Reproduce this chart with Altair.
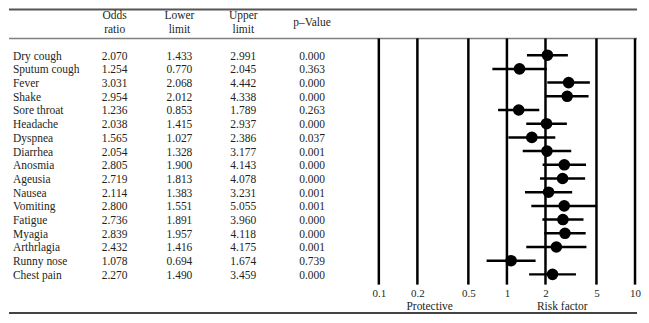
import altair as alt
import pandas as pd

symptoms = ["Dry cough", "Sputum cough", "Fever", "Shake", "Sore throat", "Headache",
            "Dyspnea", "Diarrhea", "Anosmia", "Ageusia", "Nausea", "Vomiting",
            "Fatigue", "Myagia", "Arthrlagia", "Runny nose", "Chest pain"]
odds_ratio = [2.070, 1.254, 3.031, 2.954, 1.236, 2.038, 1.565, 2.054, 2.805, 2.719,
              2.114, 2.800, 2.736, 2.839, 2.432, 1.078, 2.270]
lower_limit = [1.433, 0.770, 2.068, 2.012, 0.853, 1.415, 1.027, 1.328, 1.900, 1.813,
               1.383, 1.551, 1.891, 1.957, 1.416, 0.694, 1.490]
upper_limit = [2.991, 2.045, 4.442, 4.338, 1.789, 2.937, 2.386, 3.177, 4.143, 4.078,
               3.231, 5.055, 3.960, 4.118, 4.175, 1.674, 3.459]
p_values = [0.000, 0.363, 0.000, 0.000, 0.263, 0.000, 0.037, 0.001, 0.000, 0.000,
            0.001, 0.001, 0.000, 0.000, 0.001, 0.739, 0.000]
x_ticks = [0.1, 0.2, 0.5, 1, 2, 5, 10]
headers = ["Odds\nratio", "Lower\nlimit", "Upper\nlimit", "p\u2013Value"]
zone_labels = ["Protective", "Risk factor"]

FONT = "Liberation Serif"
TXT = "#231f20"
FS = 11.5
W, H = 633, 277

df = pd.DataFrame({
    "Symptom": symptoms,
    "OR": odds_ratio,
    "Lower": lower_limit,
    "Upper": upper_limit,
    "P": p_values,
})
ticks_df = pd.DataFrame({"tick": x_ticks})
one = pd.DataFrame({"k": [0]})

yscale = alt.Scale(domain=symptoms, range=[40, 273.6], padding=0)
ysym = alt.Y("Symptom:N", scale=yscale, axis=None)
xscale = alt.Scale(type="log", domain=[0.1, 10], range=[372, 629], nice=False)
xaxis = alt.Axis(values=x_ticks, format="~g", title=None, grid=False, domain=False,
                 ticks=False, labelPadding=3, labelFont=FONT, labelFontSize=11,
                 labelColor=TXT, labelFlush=False, labelOverlap=False)

base = alt.Chart(df)

# table columns
name_col = base.mark_text(align="left", baseline="middle", font=FONT, fontSize=FS,
                          color=TXT, dy=1.5).encode(x=alt.value(5), y=ysym, text="Symptom:N")
cols = [("OR", 107), ("Lower", 172), ("Upper", 236), ("P", 305)]
num_layers = [
    base.mark_text(align="center", baseline="middle", font=FONT, fontSize=FS,
                   color=TXT, dy=1.5).encode(x=alt.value(cx), y=ysym,
                                             text=alt.Text(f"{f}:Q", format=".3f"))
    for f, cx in cols
]

# headers
header_layers = []
for h, (_, cx) in zip(headers, cols):
    two_line = "\n" in h
    header_layers.append(
        alt.Chart(pd.DataFrame({"h": [h]})).mark_text(
            align="center", baseline="middle", font=FONT, fontSize=FS, color=TXT,
            lineBreak="\n", lineHeight=14
        ).encode(x=alt.value(cx), y=alt.value(8 if two_line else 15), text="h:N")
    )

# table borders
top_border = alt.Chart(one).mark_rule(color="#555555", strokeWidth=2).encode(
    x=alt.value(1), x2=alt.value(631), y=alt.value(1))
head_sep = alt.Chart(one).mark_rule(color="#808080", strokeWidth=1.5).encode(
    x=alt.value(1), x2=alt.value(631), y=alt.value(30))
bottom_border = alt.Chart(one).mark_rule(color="#444444", strokeWidth=2).encode(
    x=alt.value(1), x2=alt.value(631), y=alt.value(305.5))

# forest plot
vlines = alt.Chart(ticks_df).mark_rule(color="black", strokeWidth=2.5).encode(
    x=alt.X("tick:Q", scale=xscale, axis=xaxis), y=alt.value(30), y2=alt.value(277))
ci = base.mark_rule(color="black", strokeWidth=2.5).encode(
    x=alt.X("Lower:Q", scale=xscale, axis=xaxis), x2="Upper:Q", y=ysym)
pts = base.mark_circle(color="black", opacity=1, size=135).encode(
    x=alt.X("OR:Q", scale=xscale, axis=xaxis), y=ysym)

zone_layers = [
    alt.Chart(pd.DataFrame({"z": [z]})).mark_text(
        align="center", baseline="middle", font=FONT, fontSize=FS, color=TXT
    ).encode(x=alt.value(px), y=alt.value(299), text="z:N")
    for z, px in zip(zone_labels, [423, 556])
]

chart = alt.layer(
    top_border, head_sep, bottom_border, vlines, ci, pts,
    name_col, *num_layers, *header_layers, *zone_layers
).properties(width=W, height=H, padding=0).configure_view(stroke=None)

chart.save("out.html", embed_options={"renderer": "svg", "actions": False})
